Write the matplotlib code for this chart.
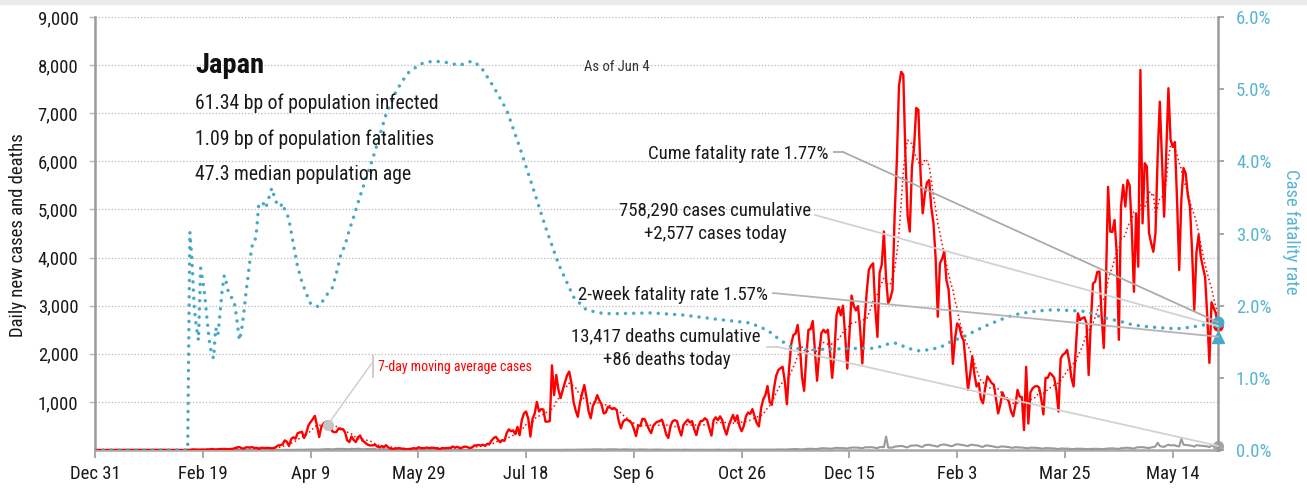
import os
import numpy as np
import pandas as pd
import matplotlib
matplotlib.use("Agg")
import matplotlib.pyplot as plt
import matplotlib.font_manager as fm
import matplotlib.dates as mdates
from matplotlib.font_manager import FontProperties
from matplotlib.lines import Line2D
from matplotlib.patches import Rectangle

# ---------------- data ----------------
start_date = "2019-12-31"

# daily new cases, Dec 31 2019 .. Apr 5 2020
cases_2020a = [0, 0, 0, 0, 0, 0,
               0, 0, 0, 0, 0, 0, 0,
               0, 0, 0, 1, 0, 0, 0,
               0, 0, 0, 0, 1, 1, 1,
               0, 2, 3, 4, 3, 2, 0,
               0, 1, 0, 2, 0, 0, 0,
               0, 3, 2, 2, 10, 12, 9,
               6, 7, 10, 6, 13, 11, 20,
               14, 10, 15, 20, 21, 22, 17,
               14, 20, 25, 40, 55, 60, 40,
               26, 55, 55, 50, 60, 40, 45,
               20, 45, 45, 40, 45, 40, 35,
               40, 65, 95, 100, 115, 200, 173,
               85, 225, 265, 235, 350, 365, 380]
# Apr 6 .. Jul 5 2020
cases_2020b = [250, 350, 510, 580, 640, 710, 505,
               270, 480, 550, 585, 575, 565, 390,
               370, 375, 450, 430, 435, 370, 200,
               165, 280, 210, 165, 265, 300, 200,
               165, 125, 100, 95, 97, 110, 70,
               55, 80, 55, 100, 55, 30, 26,
               27, 31, 40, 30, 26, 20, 15,
               21, 29, 40, 25, 56, 43, 38,
               39, 51, 40, 47, 46, 38, 35,
               16, 42, 36, 40, 41, 45, 72,
               48, 67, 44, 39, 67, 70, 55,
               40, 56, 95, 96, 105, 92, 110,
               86, 130, 127, 195, 250, 274, 210]
# Jul 6 .. Oct 4 2020
cases_2020c = [160, 207, 190, 355, 430, 390, 408,
               330, 480, 310, 620, 760, 800, 650,
               280, 650, 760, 1000, 800, 850, 840,
               590, 590, 600, 1760, 1140, 1560, 1250,
               1080, 1250, 1400, 1550, 1630, 1400, 1000,
               820, 690, 985, 1177, 1350, 1100, 800,
               660, 920, 1000, 1140, 1030, 950, 760,
               780, 900, 880, 850, 870, 830, 600,
               450, 590, 630, 630, 600, 560, 440,
               290, 510, 500, 650, 640, 540, 430,
               350, 500, 560, 590, 600, 630, 500,
               320, 250, 500, 600, 620, 600, 430,
               300, 520, 580, 630, 570, 600, 430]
# Oct 5 2020 .. Jan 3 2021
cases_2020d = [310, 500, 600, 610, 660, 620, 450,
               300, 620, 680, 620, 700, 620, 440,
               320, 500, 620, 730, 600, 720, 500,
               390, 500, 700, 780, 750, 850, 700,
               560, 490, 860, 1050, 1140, 1330, 1000,
               940, 1280, 1540, 1660, 1700, 1730, 1440,
               950, 1690, 2200, 2390, 2420, 2600, 2170,
               1520, 1230, 1940, 2500, 2510, 2680, 2060,
               1440, 2020, 2430, 2500, 2440, 2500, 2030,
               1500, 2000, 2800, 2970, 2800, 3000, 2400,
               1690, 2400, 3210, 3000, 2900, 2990, 2500,
               1800, 2650, 3270, 3740, 3830, 3880, 2950,
               2350, 3680, 3850, 4540, 3560, 3050, 3150]
# Jan 4 .. Apr 4 2021
cases_2021a = [3330, 4900, 6000, 7570, 7860, 7800, 6090,
               4870, 4540, 5870, 6300, 7110, 7070, 5750,
               4920, 5320, 5560, 5610, 5040, 4710, 3990,
               2770, 3880, 3970, 4130, 3530, 3340, 2670,
               1790, 2320, 2630, 2570, 2370, 2270, 1780,
               1250, 1560, 1940, 1570, 1320, 1390, 1060,
               970, 1300, 1530, 1460, 1390, 1360, 1070,
               760, 940, 1200, 1070, 1080, 1000, 800,
               700, 930, 1250, 1110, 1100, 415, 1730,
               550, 1200, 1280, 1320, 1330, 1300, 1060,
               740, 1500, 1500, 1600, 1560, 1500, 1250,
               800, 1900, 1980, 2010, 2080, 1840, 1500,
               1320, 2080, 2840, 2700, 2740, 2760, 2630]
# Apr 5 .. Jun 4 2021
cases_2021b = [1560, 2660, 3460, 3500, 3700, 3710, 2800,
               2120, 3450, 5470, 4540, 4530, 4780, 4100,
               2290, 5060, 5510, 5060, 5610, 5500, 4600,
               3290, 4920, 3810, 7900, 4710, 5960, 5890,
               4510, 4300, 4120, 4510, 6100, 7240, 6050,
               4850, 6200, 7520, 6450, 6300, 6400, 5200,
               3740, 5200, 5860, 5750, 5300, 5060, 4100,
               2910, 4100, 4470, 4020, 3800, 3600, 2800,
               1810, 3070, 2950, 2840, 2577]

# daily new deaths, same periods
deaths_2020a = [0] * 41 + [0, 0, 0, 1, 0, 0, 0,
                           0, 0, 1, 1, 0, 0, 1,
                           0, 1, 0, 2, 1, 0, 1,
                           0, 1, 1, 1, 0, 0, 1,
                           1, 1, 2, 1, 1, 2, 1,
                           1, 3, 1, 2, 1, 2, 3,
                           2, 3, 4, 2, 3, 4, 5,
                           3, 3, 4, 5, 5, 6, 7]
deaths_2020b = [6, 8, 10, 9, 11, 12, 8,
                10, 13, 15, 17, 19, 16, 14,
                15, 23, 22, 25, 24, 20, 18,
                16, 26, 20, 22, 27, 25, 14,
                18, 22, 20, 19, 23, 18, 10,
                12, 18, 15, 16, 13, 9, 6,
                8, 10, 12, 8, 7, 6, 4,
                5, 6, 4, 5, 3, 2, 1,
                2, 3, 1, 2, 1, 1, 0,
                1, 1, 2, 1, 0, 1, 0,
                1, 0, 1, 1, 1, 0, 0,
                1, 0, 1, 0, 1, 0, 1,
                0, 1, 0, 1, 0, 1, 0]
deaths_2020c = [0, 1, 0, 1, 0, 1, 0,
                0, 1, 1, 0, 1, 0, 0,
                1, 0, 1, 0, 1, 1, 0,
                1, 2, 1, 2, 3, 2, 1,
                3, 4, 3, 5, 6, 5, 4,
                6, 8, 7, 9, 10, 9, 8,
                9, 14, 12, 15, 13, 12, 10,
                10, 16, 14, 13, 15, 12, 9,
                8, 14, 13, 12, 10, 11, 8,
                7, 10, 12, 9, 11, 8, 6,
                6, 9, 8, 10, 7, 8, 5,
                4, 5, 7, 9, 8, 7, 5,
                4, 8, 7, 6, 7, 6, 4]
deaths_2020d = [5, 7, 8, 6, 5, 6, 4,
                4, 6, 7, 8, 6, 5, 4,
                5, 6, 7, 9, 8, 6, 5,
                5, 7, 6, 8, 7, 6, 5,
                6, 8, 9, 7, 10, 8, 7,
                8, 10, 12, 11, 13, 12, 9,
                10, 14, 16, 18, 20, 17, 15,
                12, 18, 22, 25, 27, 24, 20,
                22, 30, 35, 38, 33, 32, 28,
                26, 40, 45, 42, 38, 40, 35,
                30, 45, 50, 53, 48, 50, 42,
                38, 52, 58, 55, 60, 54, 45,
                40, 60, 62, 58, 280, 50, 48]
deaths_2021a = [50, 70, 75, 80, 85, 78, 60,
                55, 80, 95, 90, 100, 88, 70,
                65, 100, 105, 110, 95, 90, 80,
                70, 100, 110, 115, 105, 95, 80,
                85, 110, 120, 115, 105, 100, 90,
                80, 105, 110, 100, 95, 90, 70,
                65, 90, 95, 85, 80, 70, 60,
                55, 70, 75, 70, 65, 60, 50,
                45, 60, 55, 50, 52, 45, 40,
                35, 50, 45, 48, 42, 40, 30,
                30, 40, 38, 35, 36, 33, 25,
                20, 30, 32, 28, 30, 25, 20,
                18, 25, 28, 24, 26, 22, 20]
deaths_2021b = [15, 25, 22, 26, 24, 20, 18,
                18, 28, 30, 32, 35, 30, 25,
                22, 38, 40, 45, 48, 42, 35,
                30, 50, 55, 60, 58, 52, 45,
                40, 55, 60, 75, 150, 85, 70,
                65, 90, 110, 95, 100, 98, 80,
                75, 230, 110, 105, 100, 95, 85,
                70, 100, 95, 90, 85, 80, 75,
                60, 90, 85, 95, 86]

# case fatality rate (%), daily for Feb 12 .. Mar 30 2020
cfr_early_start = "2020-02-12"
cfr_early = [0.0, 3.02, 2.63, 1.99, 1.71, 1.52, 2.52, 2.36, 2.12, 1.80,
             1.52, 1.34, 1.27, 1.69, 1.59, 1.89, 2.22, 2.42, 2.31, 2.17,
             2.12, 2.10, 1.99, 1.76, 1.52, 1.66, 1.89, 2.17, 2.40, 2.66,
             2.84, 2.86, 3.05, 3.42, 3.42, 3.42, 3.35, 3.42, 3.53, 3.63,
             3.53, 3.44, 3.39, 3.37, 3.42, 3.33, 3.28, 3.19]
# case fatality rate (%), later readings
cfr_late_dates = ["2020-04-01", "2020-04-03", "2020-04-05", "2020-04-07", "2020-04-09",
                  "2020-04-11", "2020-04-13", "2020-04-15", "2020-04-17", "2020-04-19",
                  "2020-04-21", "2020-04-23", "2020-04-25", "2020-04-27", "2020-04-29",
                  "2020-05-02", "2020-05-08", "2020-05-14", "2020-05-19", "2020-05-24",
                  "2020-05-30", "2020-06-05", "2020-06-11", "2020-06-17", "2020-06-23",
                  "2020-06-27", "2020-07-03", "2020-07-09", "2020-07-15", "2020-07-21",
                  "2020-07-27", "2020-08-02", "2020-08-09", "2020-08-15", "2020-08-23",
                  "2020-08-30", "2020-09-14", "2020-09-29", "2020-10-15", "2020-10-30",
                  "2020-11-07", "2020-11-13", "2020-11-19", "2020-11-27", "2020-12-08",
                  "2020-12-20", "2020-12-27", "2021-01-03", "2021-01-06", "2021-01-11",
                  "2021-01-17", "2021-01-26", "2021-01-31", "2021-02-06", "2021-02-12",
                  "2021-02-17", "2021-02-21", "2021-02-27", "2021-03-04", "2021-03-11",
                  "2021-03-17", "2021-03-23", "2021-03-29", "2021-04-04", "2021-04-09",
                  "2021-04-14", "2021-04-20", "2021-04-26", "2021-05-02", "2021-05-10",
                  "2021-05-16", "2021-05-22", "2021-05-28", "2021-06-04"]
cfr_late = [2.86, 2.54, 2.33, 2.17, 2.03,
            1.99, 1.99, 2.08, 2.17, 2.24,
            2.45, 2.70, 2.84, 3.05, 3.23,
            3.52, 4.05, 4.65, 4.99, 5.22,
            5.35, 5.39, 5.37, 5.33, 5.39,
            5.31, 5.03, 4.71, 4.20, 3.65,
            3.09, 2.58, 2.12, 1.94, 1.89,
            1.89, 1.90, 1.87, 1.81, 1.76,
            1.66, 1.52, 1.41, 1.39, 1.40,
            1.41, 1.41, 1.48, 1.48, 1.41,
            1.37, 1.42, 1.50, 1.57, 1.66,
            1.73, 1.78, 1.85, 1.89, 1.92,
            1.94, 1.94, 1.93, 1.92, 1.86,
            1.82, 1.78, 1.73, 1.71, 1.69,
            1.68, 1.70, 1.73, 1.77]

two_week_cfr = 1.57
cum_cases = 758290
cum_deaths = 13417
x_tick_labels = ["Dec 31", "Feb 19", "Apr 9", "May 29", "Jul 18", "Sep 6",
                 "Oct 26", "Dec 15", "Feb 3", "Mar 25", "May 14"]
left_ticks = [1000, 2000, 3000, 4000, 5000, 6000, 7000, 8000, 9000]
right_ticks = [0, 1, 2, 3, 4, 5, 6]

# ---------------- fonts ----------------
def pick_font(bold):
    entries = [(os.path.basename(f.fname).lower().replace("-", "").replace("_", "").replace(" ", ""), f.fname)
               for f in fm.fontManager.ttflist]
    prefs = ["robotocondensed", "liberationsansnarrow", "notosanscondensed",
             "opensanscondensed", "dejavusanscondensed"]
    bad = ["italic", "oblique", "light", "thin", "black", "semi", "extra", "medium"]
    for p in prefs:
        for key, fn in sorted(entries):
            if p not in key:
                continue
            rest = key.replace(p, "")
            if any(b in rest for b in bad):
                continue
            if ("bold" in rest) == bold:
                return fn
    return None

REG = pick_font(False)
BOLD = pick_font(True) or REG

def F(size, bold=False):
    fn = BOLD if bold else REG
    if fn:
        return FontProperties(fname=fn, size=size)
    return FontProperties(family="DejaVu Sans", size=size, weight="bold" if bold else "normal")

# ---------------- figure ----------------
W, H = 1307, 491
fig = plt.figure(figsize=(W / 100, H / 100), dpi=100)
fig.patch.set_facecolor("white")
fig.patches.append(Rectangle((0, 1 - 4 / H), 1, 4 / H, transform=fig.transFigure,
                             color="#ececec", zorder=0))

def P(x, y):
    return (x / W, 1 - y / H)

ax = fig.add_axes([95 / W, 1 - 450 / H, (1218 - 95) / W, (450 - 17) / H])
ax2 = ax.twinx()

RED = "#ff0000"
BLUE = "#45a9c7"
BLUE_TXT = "#5ab4d2"
GRAY = "#9a9a9a"
TXT = "#1a1a1a"

cases = cases_2020a + cases_2020b + cases_2020c + cases_2020d + cases_2021a + cases_2021b
deaths = deaths_2020a + deaths_2020b + deaths_2020c + deaths_2020d + deaths_2021a + deaths_2021b
dates = pd.date_range(start_date, periods=len(cases), freq="D")
cases_s = pd.Series(cases, index=dates, dtype=float)
deaths_s = pd.Series(deaths, index=dates[:len(deaths)], dtype=float)
ma7 = cases_s.rolling(7, min_periods=1).mean()

cfr_dates = ([pd.Timestamp(start_date)]
             + list(pd.date_range(cfr_early_start, periods=len(cfr_early), freq="D"))
             + list(pd.to_datetime(cfr_late_dates)))
cfr_vals = [0.0] + cfr_early + cfr_late

# grid
for v in left_ticks:
    ax.axhline(v, color="#b8b8b8", lw=0.9, ls=(0, (1, 1.6)), zorder=1)

ax.plot(dates, cases_s.values, color=RED, lw=1.7, zorder=4, solid_joinstyle="round")
ax.plot(dates, ma7.values, color=RED, lw=1.1, ls=(0, (1, 1.8)), zorder=4)
ax.plot(deaths_s.index, deaths_s.values, color=GRAY, lw=1.5, zorder=3)

ax2.plot(cfr_dates, cfr_vals, color=BLUE, lw=2.5, ls=(0, (0.01, 2.35)),
         dash_capstyle="round", zorder=5)

ax.set_xlim(dates[0], dates[-1])
ax.set_ylim(0, 9000)
ax2.set_ylim(0, 6)
ax2.set_xlim(dates[0], dates[-1])

xt = pd.date_range(start_date, periods=len(x_tick_labels), freq="50D")
ax.set_xticks(xt)
ax.set_xticklabels(x_tick_labels)
ax.set_yticks(left_ticks)
ax.set_yticklabels([f"{v:,}" for v in left_ticks])
ax2.set_yticks(right_ticks)
ax2.set_yticklabels([f"{v:.1f}%" for v in right_ticks])

for a in (ax, ax2):
    for s in a.spines.values():
        s.set_visible(False)
ax.spines["left"].set_visible(True)
ax.spines["left"].set_color(GRAY)
ax.spines["left"].set_linewidth(1.8)
ax.spines["bottom"].set_visible(True)
ax.spines["bottom"].set_color("#a8a8a8")
ax.spines["bottom"].set_linewidth(1.8)
ax2.spines["right"].set_visible(True)
ax2.spines["right"].set_color(GRAY)
ax2.spines["right"].set_linewidth(1.8)

ax.tick_params(axis="x", length=6, width=1.2, color=GRAY, pad=5)
ax.tick_params(axis="y", length=4, width=1.0, color="#bbbbbb", pad=8)
ax2.tick_params(axis="y", length=4, width=1.2, color=GRAY, pad=9)

for lbl in ax.get_xticklabels():
    lbl.set_fontproperties(F(13.5)); lbl.set_color(TXT)
for lbl in ax.get_yticklabels():
    lbl.set_fontproperties(F(13.5)); lbl.set_color(TXT)
for lbl in ax2.get_yticklabels():
    lbl.set_fontproperties(F(13.5)); lbl.set_color(BLUE_TXT)

fig.text(*P(18, 235), "Daily new cases and deaths", rotation=90, ha="center", va="center",
         fontproperties=F(13.5), color=TXT)
fig.text(*P(1291, 232), "Case fatality rate", rotation=270, ha="center", va="center",
         fontproperties=F(13.5), color=BLUE_TXT)

# title block
fig.text(*P(195, 73), "Japan", ha="left", va="baseline", fontproperties=F(20.5, True), color="#111111")
fig.text(*P(195, 109), "61.34 bp of population infected", ha="left", va="baseline",
         fontproperties=F(14.2), color=TXT)
fig.text(*P(195, 145), "1.09 bp of population fatalities", ha="left", va="baseline",
         fontproperties=F(14.2), color=TXT)
fig.text(*P(195, 180), "47.3 median population age", ha="left", va="baseline",
         fontproperties=F(14.2), color=TXT)
fig.text(*P(584, 71), "As of Jun 4", ha="left", va="baseline", fontproperties=F(10.5), color="#333333")

# end markers
last = dates[-1]
lastn = mdates.date2num(last)
ax.plot([last], [cases_s.iloc[-1]], "o", color=RED, ms=6.5, clip_on=False, zorder=8)
ax.plot([last], [deaths_s.iloc[-1]], "o", color="#a5a5a5", ms=7, clip_on=False, zorder=8)
ax2.plot([last], [cfr_vals[-1]], "o", color=BLUE, ms=7.5, clip_on=False, zorder=9)
ax2.plot([last], [two_week_cfr], "^", color=BLUE, ms=8, clip_on=False, zorder=9)

def leader(text_xy, flat_to, target, trans, color, lw=1.3):
    x0, y0 = text_xy
    if flat_to is not None:
        fig.lines.append(Line2D([x0 / W, flat_to / W], [1 - y0 / H, 1 - y0 / H],
                                transform=fig.transFigure, color=color, lw=lw))
        x0 = flat_to
    tx, ty = fig.transFigure.inverted().transform(trans.transform(target))
    fig.lines.append(Line2D([x0 / W, tx], [1 - y0 / H, ty], transform=fig.transFigure,
                            color=color, lw=lw, zorder=6))

fs_ann = 13.5
fig.text(*P(828, 159), f"Cume fatality rate {cfr_vals[-1]:.2f}%", ha="right", va="baseline",
         fontproperties=F(fs_ann), color=TXT)
fig.text(*P(715, 215), f"{cum_cases:,} cases cumulative", ha="center",
         va="baseline", fontproperties=F(fs_ann), color=TXT)
fig.text(*P(715, 239), f"+{cases[-1]:,} cases today", ha="center", va="baseline",
         fontproperties=F(fs_ann), color=TXT)
fig.text(*P(768, 300), f"2-week fatality rate {two_week_cfr:.2f}%", ha="right", va="baseline",
         fontproperties=F(fs_ann), color=TXT)
fig.text(*P(666, 341), f"{cum_deaths:,} deaths cumulative", ha="center", va="baseline",
         fontproperties=F(fs_ann), color=TXT)
fig.text(*P(667, 365), f"+{deaths[-1]} deaths today", ha="center", va="baseline",
         fontproperties=F(fs_ann), color=TXT)

leader((834, 152), 843, (lastn, cfr_vals[-1]), ax2.transData, "#ababab")
leader((815, 215), None, (lastn, cases_s.iloc[-1]), ax.transData, "#d2d2d2")
leader((773, 293), None, (lastn, two_week_cfr), ax2.transData, "#b5b5b5")
leader((767, 347), 778, (lastn, deaths_s.iloc[-1]), ax.transData, "#d2d2d2")

# 7-day average annotation
ma_date = pd.Timestamp("2020-04-17")
ma_val = ma7.loc[ma_date]
ax.plot([ma_date], [ma_val], "o", color="#c4c4c4", ms=7, zorder=7)
mx, my = fig.transFigure.inverted().transform(ax.transData.transform((mdates.date2num(ma_date), ma_val)))
fig.lines.append(Line2D([mx, 371.5 / W], [my, 1 - 363.5 / H], transform=fig.transFigure,
                        color="#cccccc", lw=1.0))
fig.lines.append(Line2D([372.7 / W, 372.7 / W], [1 - 356 / H, 1 - 377 / H],
                        transform=fig.transFigure, color="#cccccc", lw=1.4))
fig.text(*P(378, 371), "7-day moving average cases", ha="left", va="baseline",
         fontproperties=F(10), color=RED)

fig.savefig("out.png", dpi=100)
